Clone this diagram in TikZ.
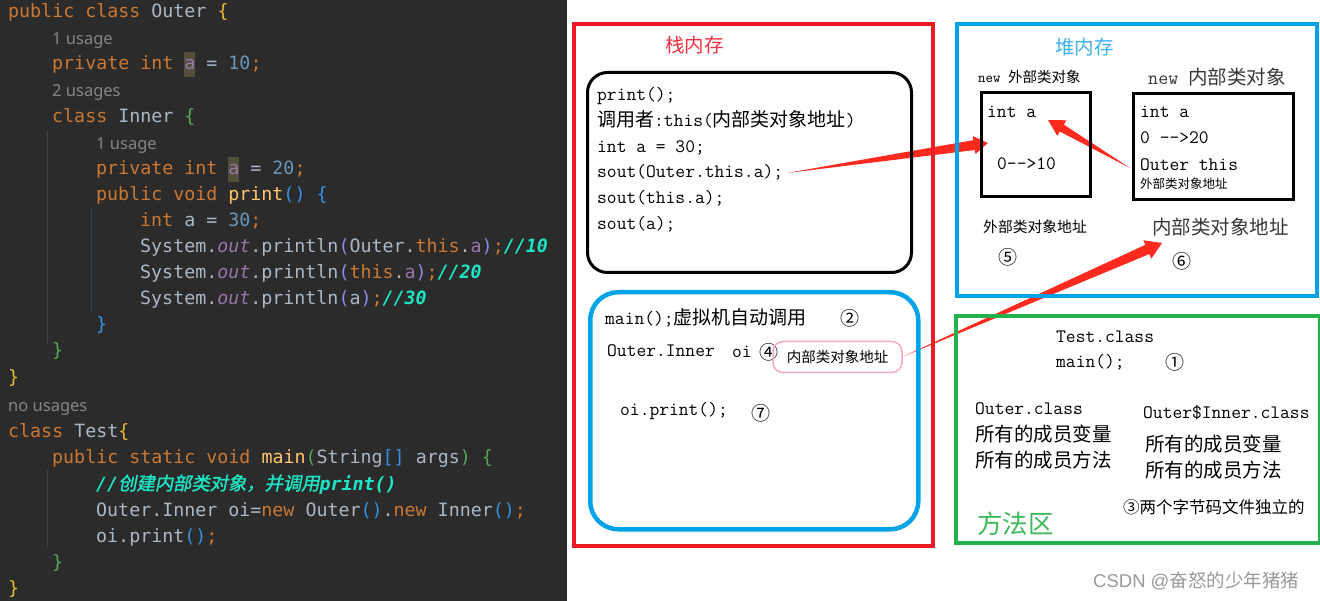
\documentclass[tikz,border=0pt]{standalone}
\usepackage{fontspec}
\usetikzlibrary{calc}
\newfontfamily\cjk{Noto Sans CJK SC}
\newfontfamily\cjkcm{Noto Sans CJK SC}[FakeSlant=0.2,FakeBold=1.5]
\newfontfamily\codef{DejaVu Sans Mono}
\newfontfamily\hintf{Noto Sans}
\newfontfamily\wmf{Liberation Sans}
\definecolor{bgc}{HTML}{2B2B2B}
\definecolor{kwc}{HTML}{CC7832}
\definecolor{idc}{HTML}{A9B7C6}
\definecolor{numc}{HTML}{6897BB}
\definecolor{fldc}{HTML}{9876AA}
\definecolor{hlc}{HTML}{52503A}
\definecolor{cmtc}{HTML}{1CE6C4}
\definecolor{fnc}{HTML}{FFC66D}
\definecolor{hintc}{HTML}{858585}
\definecolor{brY}{HTML}{E8BA36}
\definecolor{brG}{HTML}{54A857}
\definecolor{brB}{HTML}{3592E8}
\definecolor{parc}{HTML}{8C8CE6}
\definecolor{guideG}{HTML}{3A4A3A}
\definecolor{guideB}{HTML}{2F4055}
\definecolor{boxred}{HTML}{ED1C24}
\definecolor{boxblue}{HTML}{00A2E8}
\definecolor{boxgreen}{HTML}{22B14C}
\definecolor{pinkc}{HTML}{F7A8C8}
\definecolor{arrowred}{HTML}{FE2A1E}
\definecolor{titlered}{HTML}{F03040}
\definecolor{titleblue}{HTML}{3DB0F0}
\definecolor{areagreen}{HTML}{3CB95A}
\definecolor{darkgreyc}{HTML}{383838}
\definecolor{wmc}{HTML}{9A9A9A}
\newcommand\jk[1]{\textcolor{kwc}{#1}}
\newcommand\ji[1]{\textcolor{idc}{#1}}
\newcommand\jn[1]{\textcolor{numc}{#1}}
\newcommand\jf[1]{\textcolor{fldc}{#1}}
\newcommand\jfn[1]{\textcolor{fnc}{#1}}
\newcommand\jp[1]{\textcolor{parc}{#1}}
\newcommand\jy[1]{\textcolor{brY}{#1}}
\newcommand\jg[1]{\textcolor{brG}{#1}}
\newcommand\jb[1]{\textcolor{brB}{#1}}
\newcommand\jout{\textcolor{fldc}{\itshape out}}
\newcommand\jc[1]{\textcolor{cmtc}{\bfseries\itshape #1}}
\newcommand\jhl{{\setlength\fboxsep{0pt}\colorbox{hlc}{\rule[-7pt]{0pt}{25pt}\textcolor{fldc}{a}}}}
\newcommand\zh[1]{{\cjk #1}}
\newcommand\redarrow[5]{%
  \fill[arrowred] (#1)
   -- ($(#2)!#3!(#1)!#5!90:(#2)$)
   -- ($(#2)!#3!(#1)!#4!90:(#2)$)
   -- (#2)
   -- ($(#2)!#3!(#1)!#4!-90:(#2)$)
   -- ($(#2)!#3!(#1)!#5!-90:(#2)$)
   -- cycle;}
\begin{document}
\begin{tikzpicture}[x=1pt,y=-1pt,
  codeln/.style={inner sep=0pt, anchor=base west, font=\codef\fontsize{18.3}{22}\selectfont, text=idc},
  hint/.style={inner sep=0pt, anchor=base west, font=\hintf\fontsize{16.5}{19}\selectfont, text=hintc},
  rt/.style={inner sep=0pt, anchor=base west, font=\ttfamily\fontsize{19}{23}\selectfont, text=black},
  zht/.style={inner sep=0pt, anchor=base west, font=\cjk\fontsize{19.5}{23}\selectfont, text=black},
  circ/.style={inner sep=0pt, font=\cjk\fontsize{19}{21}\selectfont, text=black},
  bigbox/.style={draw, line width=4pt, anchor=north west, inner sep=0pt},
  objbox/.style={draw=black, line width=3pt, anchor=north west, inner sep=0pt}]
\useasboundingbox (0,0) rectangle (1320,601);
\fill[white] (0,0) rectangle (1320,601);
% ---------------- code panel ----------------
\fill[bgc] (0,0) rectangle (567,601);
\draw[guideG, line width=1pt] (47,130) -- (47,345);
\draw[guideB, line width=1pt] (91,208) -- (91,313);
\draw[guideG, line width=1pt] (47,470) -- (47,548);
\node[codeln] (c1) at (8,18) {\jk{public class} \ji{Outer} \jy{\{}};
\node[hint] (h1) at (52,45) {1 usage};
\node[codeln] (c3) at (52,70) {\jk{private int} \jhl{} \ji{=} \jn{10}\jk{;}};
\node[hint] (h2) at (52,97) {2 usages};
\node[codeln] (c5) at (52,123) {\jk{class} \ji{Inner} \jg{\{}};
\node[hint] (h3) at (96,150) {1 usage};
\node[codeln] (c7) at (96,175) {\jk{private int} \jhl{} \ji{=} \jn{20}\jk{;}};
\node[codeln] (c8) at (96,201) {\jk{public void} \jfn{print}\jb{()} \jb{\{}};
\node[codeln] (c9) at (140,227) {\jk{int} \ji{a =} \jn{30}\jk{;}};
\node[codeln] (c10) at (140,253) {\ji{System.}\jout\ji{.println}\jp{(}\ji{Outer.}\jk{this}\ji{.}\jf{a}\jp{)}\jk{;}\jc{//10}};
\node[codeln] (c11) at (140,279) {\ji{System.}\jout\ji{.println}\jp{(}\jk{this}\ji{.}\jf{a}\jp{)}\jk{;}\jc{//20}};
\node[codeln] (c12) at (140,305) {\ji{System.}\jout\ji{.println}\jp{(}\ji{a}\jp{)}\jk{;}\jc{//30}};
\node[codeln] (c13) at (96,331) {\jb{\}}};
\node[codeln] (c14) at (52,357) {\jg{\}}};
\node[codeln] (c15) at (8,384) {\jy{\}}};
\node[hint] (h4) at (8,412) {no usages};
\node[codeln] (c17) at (8,437) {\jk{class} \ji{Test}\jy{\{}};
\node[codeln] (c18) at (52,463) {\jk{public static void} \jfn{main}\jg{(}\ji{String}\jb{[]} \ji{args}\jg{)} \jg{\{}};
\node[codeln] (c19) at (96,490) {\jc{//}\textcolor{cmtc}{\cjkcm 创建内部类对象，并调用}\jc{print()}};
\node[codeln] (c20) at (96,516) {\ji{Outer.Inner oi=}\jk{new} \ji{Outer}\jb{()}\ji{.}\jk{new} \ji{Inner}\jb{()}\jk{;}};
\node[codeln] (c21) at (96,542) {\ji{oi.print}\jb{()}\jk{;}};
\node[codeln] (c22) at (52,568) {\jg{\}}};
\node[codeln] (c23) at (8,594) {\jy{\}}};
% ---------------- arrow end points ----------------
\coordinate (a1s) at (787,173);
\coordinate (a1e) at (988,143);
\coordinate (a2s) at (1130,168);
\coordinate (a2e) at (1048,120);
\coordinate (a3s) at (902,357);
\coordinate (a3e) at (1162,243);
\redarrow{a1s}{a1e}{14pt}{9pt}{5pt}
\redarrow{a2s}{a2e}{16pt}{9pt}{4pt}
\redarrow{a3s}{a3e}{16pt}{10pt}{5pt}
% ---------------- stack ----------------
\node[bigbox, draw=boxred, minimum width=359, minimum height=522] (stack) at (572,22) {};
\node[draw=black, line width=3pt, rounded corners=20pt, anchor=north west, minimum width=324, minimum height=200, inner sep=0pt] (frame) at (586,71) {};
\node[draw=boxblue, line width=4.5pt, rounded corners=28pt, anchor=north west, minimum width=328, minimum height=237, inner sep=0pt] (mainframe) at (588,290) {};
\node[zht, text=titlered] (stt) at (665,53) {栈内存};
\node[rt] (st1) at (597,101) {print();};
\node[rt] (st2) at (597,127) {\zh{调用者}:this(\zh{内部类对象地址})};
\node[rt] (st3) at (597,153) {int a = 30;};
\node[rt] (st4) at (597,178) {sout(Outer.this.a);};
\node[rt] (st5) at (597,204) {sout(this.a);};
\node[rt] (st6) at (597,230) {sout(a);};
\node[rt] (m1) at (605,325) {main();\zh{虚拟机自动调用}};
\node[circ] (n2) at (850,318) {②};
\node[rt] (m2) at (607,357) {Outer.Inner};
\node[rt] (m2b) at (732,358) {oi};
\node[circ] (n4) at (769,352) {④};
\node[draw=pinkc, line width=1.5pt, rounded corners=10pt, minimum width=129, minimum height=31, inner sep=0pt, font=\cjk\fontsize{14.5}{17}\selectfont] (pk) at (837.5,357) {内部类对象地址};
\node[rt] (m3) at (620,416) {oi.print();};
\node[circ] (n7) at (761,413) {⑦};
% ---------------- heap ----------------
\node[bigbox, draw=boxblue, minimum width=360, minimum height=272] (heap) at (955,22) {};
\node[zht, text=titleblue] (htt) at (1055,55) {堆内存};
\node[rt, font=\ttfamily\fontsize{14.5}{17}\selectfont] (hol) at (978,83) {new \zh{外部类对象}};
\node[rt, font=\ttfamily\fontsize{19.5}{23}\selectfont, text=darkgreyc] (hil) at (1148,85) {new \zh{内部类对象}};
\node[objbox, minimum width=109, minimum height=104] (outerobj) at (979.5,91.5) {};
\node[objbox, minimum width=160, minimum height=106] (innerobj) at (1131.5,92.5) {};
\node[rt] (o1) at (987,118) {int a};
\node[rt] (o2) at (997,170) {0-\kern0pt->10};
\node[rt] (i1) at (1140,118) {int a};
\node[rt] (i2) at (1140,144) {0 -\kern0pt->20};
\node[rt] (i3) at (1140,171) {Outer this};
\node[zht, font=\cjk\fontsize{12.5}{15}\selectfont] (i4) at (1140,189) {外部类对象地址};
\node[zht, font=\cjk\fontsize{14.8}{17}\selectfont] (oaddr) at (983,233) {外部类对象地址};
\node[circ] (n5) at (1008,257) {⑤};
\node[zht, text=darkgreyc] (iaddr) at (1152,235) {内部类对象地址};
\node[circ] (n6) at (1182,261) {⑥};
% ---------------- method area ----------------
\node[bigbox, draw=boxgreen, minimum width=364, minimum height=227] (method) at (954,314) {};
\node[rt] (g1) at (1056,343) {Test.class};
\node[rt] (g2) at (1056,368) {main();};
\node[circ] (n1) at (1175,362) {①};
\node[rt] (g3) at (975,415) {Outer.class};
\node[zht] (g4) at (975,442) {所有的成员变量};
\node[zht] (g5) at (975,467) {所有的成员方法};
\node[rt] (g6) at (1143,418) {Outer\$Inner.class};
\node[zht] (g7) at (1145,451) {所有的成员变量};
\node[zht] (g8) at (1145,477) {所有的成员方法};
\node[zht, font=\cjk\fontsize{16.5}{19}\selectfont] (g9) at (1123,513) {③两个字节码文件独立的};
\node[zht, font=\cjk\fontsize{25.5}{30}\selectfont, text=areagreen] (g10) at (977,533) {方法区};
\node[inner sep=0pt, anchor=base west, text=wmc, font=\wmf\fontsize{18.5}{21}\selectfont] (wm) at (1093,587) {CSDN @\zh{奋怒的少年猪猪}};
\end{tikzpicture}
\end{document}
